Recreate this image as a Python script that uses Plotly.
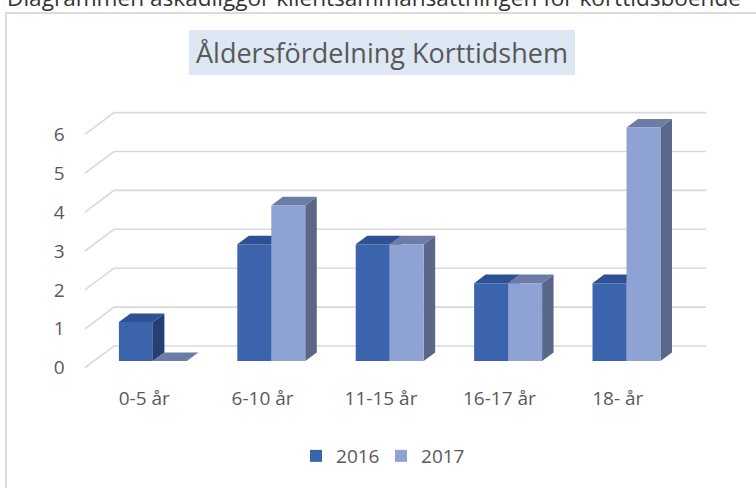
import plotly.graph_objects as go

# ---- data ----
categories = ["0-5 år", "6-10 år", "11-15 år", "16-17 år", "18- år"]
series_names = ["2016", "2017"]
values_2016 = [1, 3, 3, 2, 2]
values_2017 = [0, 4, 3, 2, 6]
y_ticks = [0, 1, 2, 3, 4, 5, 6]
title_text = "Åldersfördelning Korttidshem"
caption_text = "Diagrammen åskådliggör klientsammansättningen för korttidsboende"

# ---- layout geometry (pixels) ----
W, H = 756, 488
PX0, CAT = 93.7, 118.4      # bar plane: x pixel of -0.5, px per category
PY0, UNIT = 361.0, 38.9     # bar plane: y pixel of value 0, px per unit
XR = [-0.68, 4.85]
YR = [-0.5, 7.0]
FX, FY = -8.7 / CAT, -6.7 / UNIT     # front plane offset (data units)
BX, BY = 20.3 / CAT, 15.0 / UNIT     # back wall offset
DX, DY = 11.5 / CAT, 8.6 / UNIT      # bar depth
BW = 0.287                           # bar width (category units)

def xpx(v):
    return PX0 + (v + 0.5) * CAT

def ypx(v):
    return PY0 - v * UNIT

xdom = [xpx(XR[0]) / W, xpx(XR[1]) / W]
ydom = [1 - ypx(YR[0]) / H, 1 - ypx(YR[1]) / H]

front = {"2016": "#3b64ad", "2017": "#8fa2d4"}
side = {"2016": "#263f72", "2017": "#5b6789"}
top = {"2016": "#2e5193", "2017": "#6c7ca6"}
grid = "#d9d9d9"
txt = "#595959"
FONT = "Open Sans"

fig = go.Figure()
shapes = []

# gridlines: diagonal (side wall) + back wall line
for v in y_ticks:
    path = (f"M {-0.5 + FX},{v + FY} L {-0.5 + BX},{v + BY} "
            f"L {4.5 + BX},{v + BY}")
    shapes.append(dict(type="path", path=path, xref="x", yref="y",
                       line=dict(color=grid, width=1.6), layer="below"))

# 3D faces for bars
for name, vals, off in [("2016", values_2016, -BW), ("2017", values_2017, 0.0)]:
    for i, v in enumerate(vals):
        x0 = i + off
        x1 = x0 + BW
        side_p = (f"M {x1},0 L {x1 + DX},{DY} L {x1 + DX},{v + DY} "
                  f"L {x1},{v} Z")
        top_p = (f"M {x0},{v} L {x1},{v} L {x1 + DX},{v + DY} "
                 f"L {x0 + DX},{v + DY} Z")
        shapes.append(dict(type="path", path=side_p, xref="x", yref="y",
                           fillcolor=side[name], line=dict(width=0),
                           layer="below"))
        shapes.append(dict(type="path", path=top_p, xref="x", yref="y",
                           fillcolor=top[name], line=dict(width=0),
                           layer="below"))

for name, vals, off in [("2016", values_2016, -BW), ("2017", values_2017, 0.0)]:
    fig.add_trace(go.Bar(
        name=name, x=list(range(len(categories))), y=vals,
        width=BW, offset=off, marker=dict(color=front[name], line=dict(width=0)),
        hoverinfo="skip",
    ))

# chart border
shapes.append(dict(type="rect", xref="paper", yref="paper",
                   x0=6 / W, x1=(W + 10) / W, y0=-0.05, y1=1 - 13 / H,
                   line=dict(color="#d0d0d0", width=1.5), layer="below"))
# title box
shapes.append(dict(type="rect", xref="paper", yref="paper",
                   x0=189 / W, x1=575 / W, y0=1 - 75 / H, y1=1 - 30 / H,
                   fillcolor="#dde8f4", line=dict(width=0), layer="below"))

annotations = [
    dict(text=title_text, xref="paper", yref="paper",
         x=382 / W, y=1 - 52.5 / H, xanchor="center", yanchor="middle",
         showarrow=False, font=dict(family=FONT, size=27, color=txt)),
    dict(text=caption_text, xref="paper", yref="paper",
         x=5 / W, y=1 - 15 / H, xanchor="left", yanchor="bottom",
         showarrow=False, font=dict(family=FONT, size=22.6, color="#333333")),
]

fig.update_layout(
    width=W, height=H,
    margin=dict(l=0, r=0, t=0, b=0),
    paper_bgcolor="white", plot_bgcolor="rgba(0,0,0,0)",
    barmode="overlay",
    shapes=shapes, annotations=annotations,
    showlegend=True,
    legend=dict(orientation="h", x=0.504, xanchor="center",
                y=1 - 456 / H, yanchor="middle",
                entrywidth=40, entrywidthmode="pixels",
                font=dict(family=FONT, size=19, color=txt),
                traceorder="normal"),
    xaxis=dict(domain=xdom, range=XR, showgrid=False, zeroline=False,
               showline=False, tickmode="array",
               tickvals=[i + FX for i in range(len(categories))],
               ticktext=categories, ticks="outside", ticklen=1,
               tickcolor="rgba(0,0,0,0)",
               tickfont=dict(family=FONT, size=19, color=txt)),
    yaxis=dict(domain=ydom, range=YR, showgrid=False, zeroline=False,
               showline=False, tickmode="array",
               tickvals=[v + FY for v in y_ticks],
               ticktext=[str(v) for v in y_ticks], ticks="outside", ticklen=3,
               tickcolor="rgba(0,0,0,0)",
               tickfont=dict(family=FONT, size=19, color=txt)),
)

fig.write_html("out.html",
               config={"displayModeBar": False},
               post_script="document.body.style.margin='0';")
